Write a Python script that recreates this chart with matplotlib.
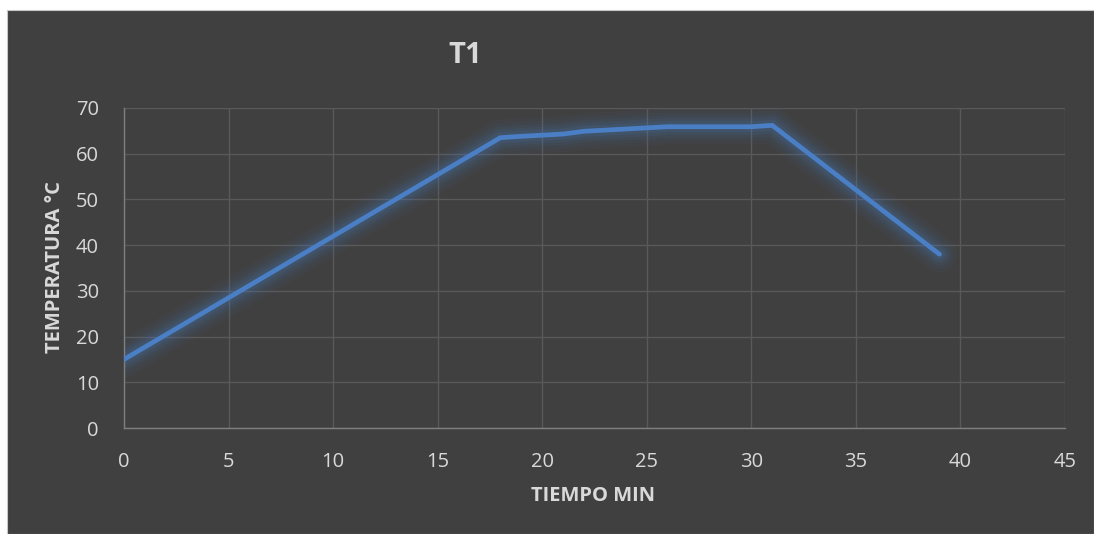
import matplotlib.pyplot as plt
from matplotlib.patches import Rectangle

# T1 temperature profile
tiempo = [0, 18, 19, 21, 22, 24, 26, 30, 31, 39]
temperatura = [15, 63.5, 63.8, 64.3, 64.9, 65.4, 65.9, 65.9, 66.2, 38]

x_ticks = [0, 5, 10, 15, 20, 25, 30, 35, 40, 45]
y_ticks = [0, 10, 20, 30, 40, 50, 60, 70]

BG = "#404040"
GRID = "#595959"
AXIS = "#7f7f7f"
TXT = "#d9d9d9"
LINE = "#4a7fc6"

plt.rcParams["font.family"] = ["Open Sans", "DejaVu Sans"]

fig = plt.figure(figsize=(10.94, 5.34), dpi=100)
fig.patch.set_facecolor("white")
fig.patches.append(Rectangle((7 / 1094, 0), 1 - 7 / 1094, 1 - 10 / 534,
                             transform=fig.transFigure, facecolor=BG,
                             edgecolor="#c8c8c8", linewidth=0.8, zorder=-5))

ax = fig.add_axes([0.1133, 0.1985, 0.8602, 0.5993])
ax.set_facecolor(BG)

# soft glow under the line
for lw, a in [(26, 0.04), (21, 0.05), (16, 0.07), (12, 0.09), (8, 0.12)]:
    ax.plot(tiempo, temperatura, color=LINE, lw=lw, alpha=a,
            solid_capstyle="round", solid_joinstyle="round", zorder=2)
ax.plot(tiempo, temperatura, color=LINE, lw=3.4,
        solid_capstyle="round", solid_joinstyle="round", zorder=3)

ax.set_xlim(0, 45)
ax.set_ylim(0, 70)
ax.set_xticks(x_ticks)
ax.set_yticks(y_ticks)
ax.grid(True, color=GRID, lw=1.0)
ax.set_axisbelow(True)
ax.tick_params(length=0, colors=TXT, labelsize=14.5)
ax.tick_params(axis="x", pad=17)
ax.tick_params(axis="y", pad=18)
for side in ["top", "right"]:
    ax.spines[side].set_visible(False)
for side in ["left", "bottom"]:
    ax.spines[side].set_color(AXIS)
    ax.spines[side].set_linewidth(1.0)

fig.text(0.425, 0.897, "T1", ha="center", va="center", color=TXT,
         fontsize=21, fontweight="bold")
fig.text(0.050, 0.50, "TEMPERATURA °C", ha="center", va="center", color=TXT,
         fontsize=14.5, fontweight="bold", rotation=90)
fig.text(0.542, 0.071, "TIEMPO MIN", ha="center", va="center", color=TXT,
         fontsize=14.5, fontweight="bold")

fig.savefig("out.png", dpi=100, facecolor=fig.get_facecolor())
